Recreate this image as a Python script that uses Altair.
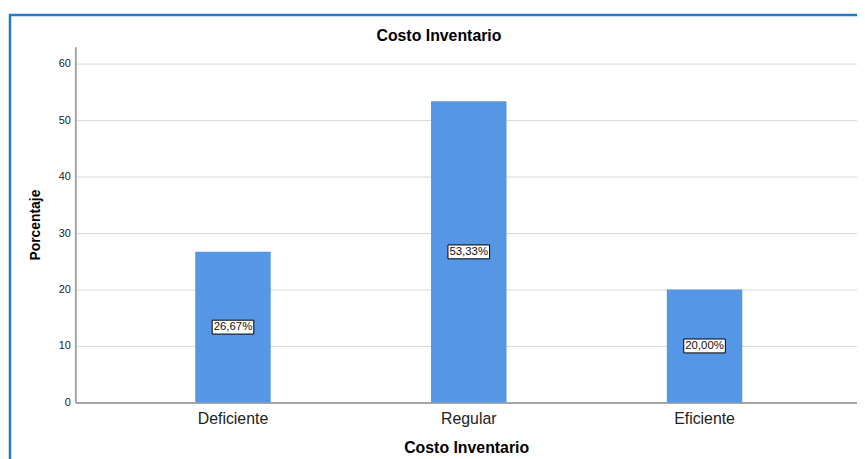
import altair as alt
import pandas as pd

categories = ["Deficiente", "Regular", "Eficiente"]
percentages = [26.67, 53.33, 20.00]
labels = ["26,67%", "53,33%", "20,00%"]
y_ticks = [0, 10, 20, 30, 40, 50, 60]
chart_title = "Costo Inventario"

FONT = "Liberation Sans"

df = pd.DataFrame({"cat": categories, "pct": percentages, "label": labels})

x_enc = alt.X(
    "cat:N",
    sort=categories,
    scale=alt.Scale(paddingInner=0.68, paddingOuter=0.4975, align=0.511),
    axis=alt.Axis(
        title="Costo Inventario",
        labelAngle=0,
        labelFont=FONT,
        labelFontSize=16,
        labelColor="#222222",
        labelPadding=8,
        ticks=False,
        domainColor="#a6a6a6",
        domainWidth=2,
        titleFont=FONT,
        titleFontSize=16,
        titleFontWeight="bold",
        titleColor="#000000",
        titlePadding=14,
    ),
)

y_enc = alt.Y(
    "pct:Q",
    scale=alt.Scale(domain=[0, 63], nice=False),
    axis=alt.Axis(
        title="Porcentaje",
        values=y_ticks,
        labelFont=FONT,
        labelFontSize=11,
        labelColor="#222222",
        labelPadding=5,
        ticks=False,
        domainColor="#a6a6a6",
        domainWidth=2,
        gridColor="#d9d9d9",
        gridWidth=1,
        titleFont=FONT,
        titleFontSize=14,
        titleFontWeight="bold",
        titleColor="#000000",
        titlePadding=16,
    ),
)

base = alt.Chart(df)

bars = base.mark_bar(color="#5596e5").encode(x=x_enc, y=y_enc)

mid = base.transform_calculate(mid="datum.pct / 2")

boxes = mid.mark_point(
    shape="M-2.1,-0.7H2.1V0.7H-2.1Z",
    size=400,
    filled=True,
    fill="white",
    stroke="black",
    strokeWidth=1,
    opacity=1,
).encode(x=alt.X("cat:N", sort=categories), y=alt.Y("mid:Q"))

texts = mid.mark_text(
    font=FONT, fontSize=11.5, color="#111111", baseline="middle", align="center"
).encode(x=alt.X("cat:N", sort=categories), y=alt.Y("mid:Q"), text="label:N")

deco = alt.Chart(alt.Data(values=[{"t": chart_title}]))

frame = deco.mark_rect(
    fillOpacity=0, stroke="#1f7ad0", strokeWidth=2.5
).encode(
    x=alt.value(-66), x2=alt.value(900), y=alt.value(-32), y2=alt.value(600)
)

title = deco.mark_text(
    font=FONT, fontSize=16, fontWeight="bold", color="#000000",
    align="center", baseline="middle",
).encode(x=alt.value(367), y=alt.value(-11), text="t:N")

chart = (
    alt.layer(bars, boxes, texts, frame, title)
    .properties(
        width=789,
        height=359,
        autosize=alt.AutoSizeParams(type="none"),
        padding={"left": 68, "top": 37, "right": 0, "bottom": 55},
        background="white",
    )
    .configure_view(stroke=None)
)

chart.save("out.html", embed_options={"renderer": "svg", "actions": False})
